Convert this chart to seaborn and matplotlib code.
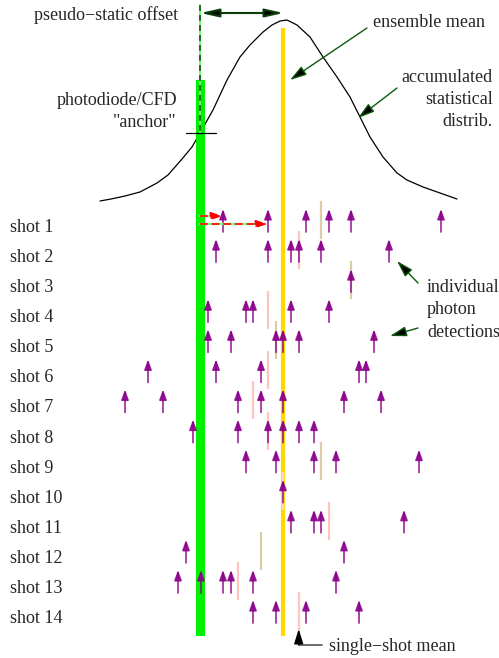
import pandas as pd
import matplotlib
matplotlib.use("Agg")
import matplotlib.pyplot as plt
import seaborn as sns

# photon detection times per shot (same time axis as the drawing, early = left)
shot_01 = [223, 268, 306, 329, 351, 441]
shot_02 = [216, 268, 291, 299, 321, 389]
shot_03 = [351]
shot_04 = [208, 246, 253, 291, 329]
shot_05 = [208, 231, 276, 283, 299, 374]
shot_06 = [148, 216, 261, 359, 366]
shot_07 = [125, 163, 238, 261, 283, 344, 381]
shot_08 = [193, 238, 268, 283, 299, 314]
shot_09 = [246, 276, 314, 336, 419]
shot_10 = [283]
shot_11 = [291, 314, 321, 404]
shot_12 = [186, 344]
shot_13 = [178, 201, 223, 231, 253, 336]
shot_14 = [253, 276, 306, 359]
shots = [shot_01, shot_02, shot_03, shot_04, shot_05, shot_06, shot_07,
         shot_08, shot_09, shot_10, shot_11, shot_12, shot_13, shot_14]
shot_labels = ["shot %d" % i for i in range(1, 15)]

# single-shot means as drawn
shot_means = [320.7, 298.7, 351, 268.3, 276, 268.3, 253.3, 268.3,
              320.7, 283.3, 328.7, 261, 238.3, 298.7]

anchor_time = 200.5
ensemble_mean = 283.5

# outline of the accumulated distribution (time, screen height)
curve_t = [100, 111, 125, 140, 157, 168, 175, 182, 192, 200, 213, 227, 240,
           250, 263, 272, 280, 287, 297, 310, 323, 337, 350, 360, 370, 383,
           397, 407, 423, 440, 457]
curve_y = [201, 199, 196, 192, 183, 175, 167, 159, 147, 133, 110, 80, 57,
           45, 32, 25, 21, 20, 25, 37, 57, 77, 97, 117, 137, 157,
           173, 180, 187, 193, 199]

# styles
PURPLE = "#8b008b"
mean_colors = ["#dccca8", "#ffc4bc", "#dccca8", "#ffc4bc", "#dccca8", "#ffc4bc",
               "#ffc4bc", "#ffc4bc", "#dccca8", "#ffd8d0", "#ffc4bc", "#dccca8",
               "#ffc4bc", "#ffc4bc"]

sns.set_theme(style="white")
plt.rcParams["font.family"] = ["Liberation Serif", "DejaVu Serif"]
FS = 13

fig = plt.figure(figsize=(4.99, 6.58), dpi=100)
ax = fig.add_axes([0, 0, 1, 1])
ax.set_xlim(0, 499)
ax.set_ylim(658, 0)
ax.axis("off")

row_tip = [209 + 30.08 * i for i in range(len(shots))]

# distribution curve
curve = pd.DataFrame({"t": curve_t, "y": curve_y})
sns.lineplot(data=curve, x="t", y="y", color="black", lw=0.9, sort=False,
             estimator=None, ax=ax)

# anchor bar and ensemble mean line
ax.bar(anchor_time, 556, width=9, bottom=80, color="#00f000", edgecolor="none", zorder=2)
ax.plot([ensemble_mean, ensemble_mean], [28, 636], color="#ffd700", lw=3, zorder=3,
        solid_capstyle="butt")
ax.plot([anchor_time, anchor_time], [5, 133], color="#70ff70", lw=1.4, zorder=4)
ax.plot([anchor_time, anchor_time], [5, 133], color="#1c4a1c", lw=1.2,
        dashes=(3.5, 2.5), zorder=5)
ax.plot([anchor_time - 14, anchor_time + 16], [133, 133], color="black", lw=0.9, zorder=5)

# single-shot means and photon arrows
for i, times in enumerate(shots):
    tip = row_tip[i]
    ax.plot([shot_means[i], shot_means[i]], [tip - 8, tip + 30], color=mean_colors[i],
            lw=1.6, zorder=4, solid_capstyle="butt")
    for t in times:
        ax.annotate("", xy=(t, tip), xytext=(t, tip + 23),
                    arrowprops=dict(arrowstyle="-|>,head_length=0.6,head_width=0.22",
                                    color=PURPLE, lw=1.2, alpha=0.85,
                                    shrinkA=0, shrinkB=0, mutation_scale=10),
                    zorder=6)
    ax.text(10, tip + 23, shot_labels[i], fontsize=FS, va="baseline", ha="left")

# time measured from anchor for the first two photons of shot 1
for k, dy in enumerate([7, 15]):
    t = shot_01[k]
    y = row_tip[0] + dy
    ax.plot([anchor_time, t - 5], [y, y], color="#80ff80", lw=1.6, zorder=6)
    ax.annotate("", xy=(t, y), xytext=(anchor_time, y),
                arrowprops=dict(arrowstyle="-|>,head_length=0.7,head_width=0.22",
                                color="red", lw=1.2, ls=(0, (4, 3)),
                                shrinkA=0, shrinkB=0, mutation_scale=10),
                zorder=7)

# pseudo-static offset
ax.annotate("", xy=(anchor_time, 13), xytext=(ensemble_mean, 13),
            arrowprops=dict(arrowstyle="<|-|>,head_length=1.1,head_width=0.25",
                            ec="#0b3d0b", fc="black", lw=1.5,
                            shrinkA=0, shrinkB=0, mutation_scale=10))
ax.text(178, 20, "pseudo\u2212static offset", fontsize=FS, ha="right", va="baseline")

# labels with pointer arrows
pointer = dict(arrowstyle="-|>,head_length=1.0,head_width=0.3", ec="#0b5a0b",
               fc="black", lw=1.0, shrinkA=0, shrinkB=0, mutation_scale=10)
ax.text(373, 27, "ensemble mean", fontsize=FS, ha="left", va="baseline")
ax.annotate("", xy=(290, 80), xytext=(367, 28), arrowprops=pointer)

for txt, yb in [("accumulated", 82), ("statistical", 104), ("distrib.", 126)]:
    ax.text(493, yb, txt, fontsize=FS, ha="right", va="baseline")
ax.annotate("", xy=(358, 118), xytext=(397, 88), arrowprops=pointer)

ax.text(177, 105, "photodiode/CFD", fontsize=FS, ha="right", va="baseline")
ax.text(177, 127, "\"anchor\"", fontsize=FS, ha="right", va="baseline")

for txt, yb in [("individual", 292), ("photon", 314), ("detections", 337)]:
    ax.text(427, yb, txt, fontsize=FS, ha="left", va="baseline")
ax.annotate("", xy=(397, 261), xytext=(418, 283), arrowprops=pointer)
ax.annotate("", xy=(390, 336), xytext=(418, 328), arrowprops=pointer)

# single-shot mean pointer
smx = shot_means[-1]
ax.plot([smx, smx, 322], [636, 645, 645], color="#555555", lw=1.2, zorder=6)
ax.annotate("", xy=(smx, 629), xytext=(smx, 645),
            arrowprops=dict(arrowstyle="-|>,head_length=0.9,head_width=0.28",
                            color="black", lw=1.0, shrinkA=0, shrinkB=0,
                            mutation_scale=10), zorder=7)
ax.text(329, 651, "single\u2212shot mean", fontsize=FS, ha="left", va="baseline")

fig.savefig("out.png", dpi=100)
